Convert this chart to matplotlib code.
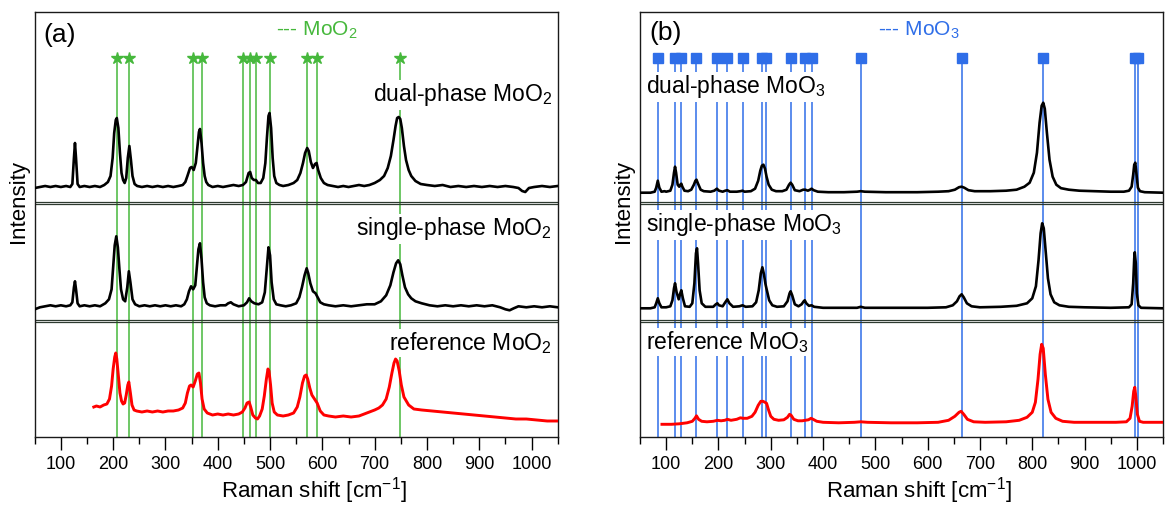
import matplotlib
matplotlib.use("Agg")
import matplotlib.pyplot as plt
from matplotlib.ticker import MultipleLocator

plt.rcParams['font.family'] = ['Liberation Sans', 'DejaVu Sans']
plt.rcParams['mathtext.fontset'] = 'custom'
plt.rcParams['mathtext.rm'] = 'Liberation Sans'
plt.rcParams['mathtext.it'] = 'Liberation Sans:italic'
plt.rcParams['mathtext.bf'] = 'Liberation Sans:bold'

# ---------------- reference peak positions (cm^-1) ----------------
mo2_lines = [207, 231, 353, 370, 449, 462, 474, 500, 571, 589, 748]
mo3_lines = [84, 117, 129, 158, 198, 217, 246, 284, 291, 338, 365, 378,
             472, 665, 820, 996, 1003]

# ---------------- (a) MoO2 spectra ----------------
dual_mo2_x = [50, 60, 70, 80, 90, 100, 110, 118, 122, 125, 127, 129, 132, 136, 145, 155, 165, 175,
              183, 190, 195, 199, 202, 205, 207, 210, 213, 216, 219, 222, 225, 228, 231, 234, 237,
              241, 246, 255, 265, 275, 285, 295, 305, 315, 325, 333, 338, 342, 347, 350, 354, 358,
              361, 364, 366, 369, 372, 375, 378, 382, 390, 400, 410, 420, 430, 440, 448, 454, 459,
              462, 465, 469, 473, 477, 482, 487, 491, 494, 497, 499, 502, 505, 508, 512, 518, 525,
              535, 545, 552, 558, 563, 567, 571, 574, 578, 582, 586, 589, 592, 597, 603, 610, 620,
              630, 640, 650, 660, 670, 680, 690, 700, 710, 718, 725, 731, 736, 740, 743, 746, 749,
              752, 756, 760, 765, 770, 778, 788, 800, 815, 830, 845, 860, 875, 890, 905, 920, 935,
              950, 965, 975, 982, 988, 995, 1005, 1020, 1035, 1050]
dual_mo2_y = [0, 1, 2, 1, 2, 1, 2, 1, 4, 30, 45, 30, 4, 1, 2, 1, 2, 1,
              3, 6, 12, 30, 55, 68, 70, 60, 35, 15, 8, 5, 10, 30, 42, 28, 12,
              4, 2, 1, 2, 1, 2, 1, 2, 1, 2, 3, 6, 12, 20, 21, 18, 25,
              40, 56, 59, 45, 25, 12, 6, 3, 1, 2, 1, 2, 3, 2, 3, 6, 15,
              16, 10, 8, 8, 5, 5, 10, 25, 50, 72, 75, 60, 30, 12, 5, 3, 2,
              3, 5, 8, 15, 25, 35, 40, 37, 26, 20, 24, 25, 18, 10, 5, 3, 2,
              1, 2, 1, 2, 3, 2, 3, 5, 8, 12, 20, 32, 48, 62, 70, 71, 69,
              60, 42, 28, 18, 12, 7, 4, 3, 2, 3, 1, 2, 1, 2, 1, 2, 1,
              2, 1, 0, -3, -4, 0, 1, 2, 1, 2]

single_mo2_x = [50, 60, 70, 80, 90, 100, 110, 118, 122, 125, 127, 129, 132, 136, 145, 155, 165, 175,
                185, 192, 197, 200, 203, 206, 209, 212, 215, 219, 223, 227, 230, 233, 237, 242,
                250, 260, 270, 280, 290, 300, 310, 320, 330, 336, 341, 345, 349, 353, 357, 360,
                363, 366, 369, 372, 375, 379, 385, 395, 405, 415, 420, 425, 430, 440, 450, 456,
                460, 464, 470, 478, 485, 490, 494, 497, 500, 503, 507, 512, 520, 530, 540, 550,
                556, 561, 566, 570, 573, 577, 582, 587, 591, 596, 603, 612, 625, 640, 655, 670,
                685, 700, 712, 722, 730, 736, 741, 745, 749, 753, 758, 764, 770, 778, 790, 805,
                820, 835, 850, 865, 880, 895, 910, 925, 940, 950, 958, 966, 975, 990, 1005, 1020,
                1035, 1050]
single_mo2_y = [-2, 0, 1, 2, 1, 2, 1, 2, 5, 20, 26, 18, 4, 1, 2, 1, 2, 1,
                4, 8, 18, 40, 62, 71, 60, 38, 18, 8, 6, 20, 36, 25, 8, 3,
                1, 2, 1, 2, 1, 2, 1, 2, 1, 3, 8, 16, 21, 18, 22, 40,
                58, 64, 48, 25, 10, 4, 2, 1, 2, 2, 4, 5, 3, 1, 2, 5,
                9, 6, 4, 3, 5, 15, 40, 60, 52, 25, 8, 3, 2, 1, 2, 4,
                10, 20, 32, 39, 34, 24, 16, 14, 10, 5, 3, 2, 1, 2, 1, 2,
                3, 3, 6, 12, 22, 35, 44, 47, 43, 32, 20, 13, 9, 6, 4, 2,
                1, 2, 1, 2, 1, 2, 1, 2, 0, -2, -3, -1, 1, 0, 1, 0,
                1, 0]

ref_mo2_x = [163, 168, 175, 182, 188, 193, 197, 200, 203, 205, 207, 210, 213, 216, 219, 222, 225,
             228, 230, 233, 236, 240, 245, 255, 265, 275, 285, 295, 305, 315, 325, 333, 338, 342,
             346, 349, 353, 357, 361, 364, 367, 370, 374, 380, 390, 400, 410, 420, 430, 440, 447,
             452, 456, 460, 463, 467, 472, 476, 480, 485, 489, 493, 496, 498, 501, 504, 508, 514,
             525, 535, 545, 552, 557, 562, 566, 569, 572, 576, 580, 585, 590, 596, 603, 612, 625,
             640, 655, 670, 680, 690, 700, 708, 715, 722, 728, 733, 737, 740, 743, 747, 751, 756,
             765, 775, 790, 810, 830, 850, 870, 890, 910, 930, 950, 970, 990, 1010, 1030, 1050]
ref_mo2_y = [14, 15, 14, 16, 17, 22, 35, 52, 64, 68, 62, 45, 28, 20, 17, 18, 26,
             36, 39, 28, 16, 11, 10, 9, 10, 9, 10, 9, 10, 10, 11, 13, 18, 28,
             35, 36, 34, 40, 47, 48, 38, 22, 12, 8, 6, 7, 6, 7, 6, 7, 9,
             13, 18, 19, 14, 6, 3, 2, 5, 12, 25, 42, 52, 50, 36, 18, 9, 6,
             5, 6, 8, 14, 24, 38, 45, 46, 42, 33, 26, 22, 18, 10, 6, 5, 4,
             5, 4, 5, 7, 9, 11, 13, 16, 22, 34, 48, 58, 62, 60, 50, 36, 24,
             16, 12, 11, 10, 9, 8, 7, 6, 5, 4, 3, 2, 2, 1, 0, 0]

# ---------------- (b) MoO3 spectra ----------------
dual_mo3_x = [50, 70, 78, 81, 84, 87, 91, 97, 100, 108, 112, 115, 117, 119, 122, 125, 127, 129,
              131, 135, 142, 148, 153, 156, 158, 161, 166, 172, 185, 192, 197, 201, 208, 213, 217,
              222, 235, 242, 246, 250, 262, 270, 276, 280, 283, 286, 289, 292, 296, 302, 310, 322,
              330, 335, 338, 341, 346, 355, 362, 366, 371, 375, 378, 382, 390, 410, 440, 465, 472,
              480, 520, 580, 620, 640, 652, 660, 665, 670, 678, 690, 720, 750, 770, 785, 795, 803,
              809, 814, 818, 821, 824, 828, 833, 839, 846, 855, 870, 890, 920, 950, 975, 985, 990,
              993, 995, 997, 999, 1002, 1006, 1015, 1050]
dual_mo3_y = [0, 0, 1, 5, 12, 5, 1, 1.5, 1, 2, 8, 20, 26, 20, 8, 6, 8, 9,
              6, 2, 1.5, 3, 8, 12, 13, 9, 3, 1.5, 1, 2, 4, 2, 1, 2, 2.5,
              1, 1, 1.5, 2, 1, 1.5, 4, 12, 22, 27, 28, 24, 16, 8, 3, 1.5, 1.5,
              3, 8, 10, 8, 2.5, 1.5, 3, 3, 2, 3, 4, 2.5, 1, 0.5, 0.5, 1, 1.5,
              1, 0.5, 0.5, 1, 1.5, 3, 5.5, 6, 5, 2.5, 1.5, 1.5, 2, 3, 6, 10, 20,
              40, 70, 87, 90, 84, 60, 33, 16, 8, 4.5, 3, 2, 1.5, 1, 1, 2, 6,
              18, 28, 30, 20, 5, 1.5, 0.5, 0]

single_mo3_x = [50, 70, 78, 81, 84, 87, 91, 100, 108, 112, 115, 117, 120, 124, 127, 129, 132, 136,
                145, 150, 154, 157, 159, 161, 164, 168, 175, 190, 195, 198, 201, 208, 213, 217, 221,
                228, 240, 246, 252, 265, 272, 277, 281, 284, 287, 290, 293, 297, 303, 312, 325, 332,
                336, 338, 341, 346, 353, 359, 363, 365, 368, 373, 378, 383, 400, 465, 472, 480, 600,
                635, 648, 656, 661, 665, 669, 675, 684, 700, 740, 770, 790, 800, 807, 812, 816, 819,
                822, 826, 830, 835, 842, 852, 870, 900, 950, 985, 990, 993, 995, 996, 998, 1000,
                1003, 1008, 1050]
single_mo3_y = [0, 0, 1, 5, 10, 5, 1, 1, 2, 8, 20, 25, 16, 9, 15, 18, 10, 2,
                1.5, 5, 25, 55, 60, 45, 18, 5, 1.5, 1.5, 4, 5, 3, 2, 6, 9, 5,
                1.5, 2, 3, 1.5, 2, 6, 18, 35, 41, 34, 24, 17, 8, 3, 1.5, 2, 7,
                15, 17, 13, 4, 2, 4, 7, 8, 5, 2.5, 3, 1.5, 0.5, 0.5, 1.5, 0.5, 0.5,
                1, 3, 7, 12, 14, 11, 5, 2, 1, 1.5, 2.5, 5, 10, 22, 48, 75, 85,
                80, 55, 30, 14, 6, 3, 1.5, 1, 0.5, 1, 4, 25, 50, 56, 45, 15,
                3, 0.5, 0]

ref_mo3_x = [92, 110, 125, 140, 150, 155, 158, 162, 168, 178, 190, 198, 205, 212, 217, 224, 235,
             242, 247, 255, 264, 270, 276, 281, 285, 289, 292, 296, 300, 306, 315, 325, 332, 336,
             339, 344, 352, 360, 366, 372, 377, 381, 388, 400, 430, 460, 472, 485, 530, 580, 620,
             640, 652, 660, 664, 669, 676, 688, 710, 750, 775, 790, 800, 806, 811, 815, 818, 821,
             825, 830, 836, 845, 858, 880, 920, 960, 980, 987, 991, 994, 996, 998, 1001, 1005,
             1012, 1050]
ref_mo3_y = [0, 0, 0.5, 1.5, 3, 6, 8.5, 5, 3, 2.5, 3, 4, 3.5, 4, 5, 4, 5,
             6.5, 6, 6, 8, 12, 19, 23, 23, 22, 21, 14, 8, 5, 4, 4.5, 7, 10,
             9, 5, 3.5, 3.5, 4, 4.5, 6, 5, 3, 2, 1.5, 2, 2.5, 2, 1.5, 1.5, 2,
             4, 8, 12, 13, 10, 5, 2.5, 2, 2.5, 4, 7, 12, 22, 45, 70, 80, 76,
             50, 25, 12, 6, 3, 2, 2, 2, 2.5, 6, 18, 33, 37, 28, 10, 3,
             2, 2]

# ---------------- styling ----------------
GREEN = '#46b83c'
BLUE = '#2f6ee8'
RED = '#ff0000'
W, H = 1165, 508
AX_TOP, AX_BOT, AX_W = 11.7, 436.5, 523.0


def row(pix):
    """Convert a figure pixel row into the panel's y data units."""
    return AX_BOT - pix


fig = plt.figure(figsize=(W / 100, H / 100), dpi=100)


def make_panel(left_px):
    ax = fig.add_axes([left_px / W, (H - AX_BOT) / H, AX_W / W, (AX_BOT - AX_TOP) / H])
    ax.set_xlim(50, 1050)
    ax.set_ylim(0, AX_BOT - AX_TOP)
    ax.xaxis.set_major_locator(MultipleLocator(100))
    ax.xaxis.set_minor_locator(MultipleLocator(50))
    ax.tick_params(axis='x', which='major', direction='out', length=9, width=1.0,
                   labelsize=13, pad=5, top=False)
    ax.tick_params(axis='x', which='minor', direction='out', length=5, width=1.0, top=False)
    ax.set_yticks([])
    for s in ax.spines.values():
        s.set_linewidth(1.0)
        s.set_color('#1a1a1a')
    # double separators between stacked spectra
    for yy in (201.7, 204.0, 320.0, 322.0):
        ax.axhline(row(yy), color='#2e3a30', lw=0.9, zorder=2)
    ax.text(0.534, -0.128, 'Raman shift [cm$^{-1}$]', transform=ax.transAxes,
            ha='center', va='center', fontsize=16)
    return ax


label_box = dict(facecolor='white', edgecolor='none', pad=1.0)

# ---------------- panel (a) ----------------
axa = make_panel(34.7)
axa.vlines(mo2_lines, 0, row(58), color=GREEN, lw=1.1, zorder=1)
axa.plot(mo2_lines, [row(58)] * len(mo2_lines), ls='none', marker='*', ms=9,
         color=GREEN, mec=GREEN, zorder=3, clip_on=False)

base_a = [188.0, 307.3, 421.0]
axa.plot(dual_mo2_x, [row(base_a[0]) + v for v in dual_mo2_y], color='black', lw=1.9, zorder=4)
axa.plot(single_mo2_x, [row(base_a[1]) + v for v in single_mo2_y], color='black', lw=1.9, zorder=4)
axa.plot(ref_mo2_x, [row(base_a[2]) + v for v in ref_mo2_y], color=RED, lw=2.1, zorder=4)

axa.text(0.048, row(35), '(a)', transform=axa.get_yaxis_transform(),
         ha='center', va='center', fontsize=19)
axa.text(0.461, row(30), '--- MoO$_2$', transform=axa.get_yaxis_transform(),
         ha='left', va='center', fontsize=15, color=GREEN)
for txt, yy in (('dual-phase MoO$_2$', 95), ('single-phase MoO$_2$', 229), ('reference MoO$_2$', 343)):
    axa.text(1.0 - 5.5 / AX_W, row(yy), txt, transform=axa.get_yaxis_transform(),
             ha='right', va='center', fontsize=16.5, bbox=label_box, zorder=3)
axa.text(-0.031, 0.554, 'Intensity', transform=axa.transAxes, rotation=90,
         ha='center', va='center', fontsize=16)

# ---------------- panel (b) ----------------
axb = make_panel(640.0)
axb.vlines(mo3_lines, 0, row(57.5), color=BLUE, lw=1.1, zorder=1)
axb.plot(mo3_lines, [row(57.5)] * len(mo3_lines), ls='none', marker='s', ms=6.5,
         color=BLUE, mec=BLUE, zorder=3, clip_on=False)

base_b = [192.7, 308.3, 424.3]
axb.plot(dual_mo3_x, [row(base_b[0]) + v for v in dual_mo3_y], color='black', lw=1.9, zorder=4)
axb.plot(single_mo3_x, [row(base_b[1]) + v for v in single_mo3_y], color='black', lw=1.9, zorder=4)
axb.plot(ref_mo3_x, [row(base_b[2]) + v for v in ref_mo3_y], color=RED, lw=2.1, zorder=4)

axb.text(0.048, row(33), '(b)', transform=axb.get_yaxis_transform(),
         ha='center', va='center', fontsize=19)
axb.text((878 - 640) / AX_W, row(30), '--- MoO$_3$', transform=axb.get_yaxis_transform(),
         ha='left', va='center', fontsize=15, color=BLUE)
for txt, yy in (('dual-phase MoO$_3$', 87), ('single-phase MoO$_3$', 225), ('reference MoO$_3$', 342)):
    axb.text(6.5 / AX_W, row(yy), txt, transform=axb.get_yaxis_transform(),
             ha='left', va='center', fontsize=16.5, bbox=label_box, zorder=3)
axb.text(-0.0325, 0.554, 'Intensity', transform=axb.transAxes, rotation=90,
         ha='center', va='center', fontsize=16)

fig.savefig('out.png', dpi=100)
